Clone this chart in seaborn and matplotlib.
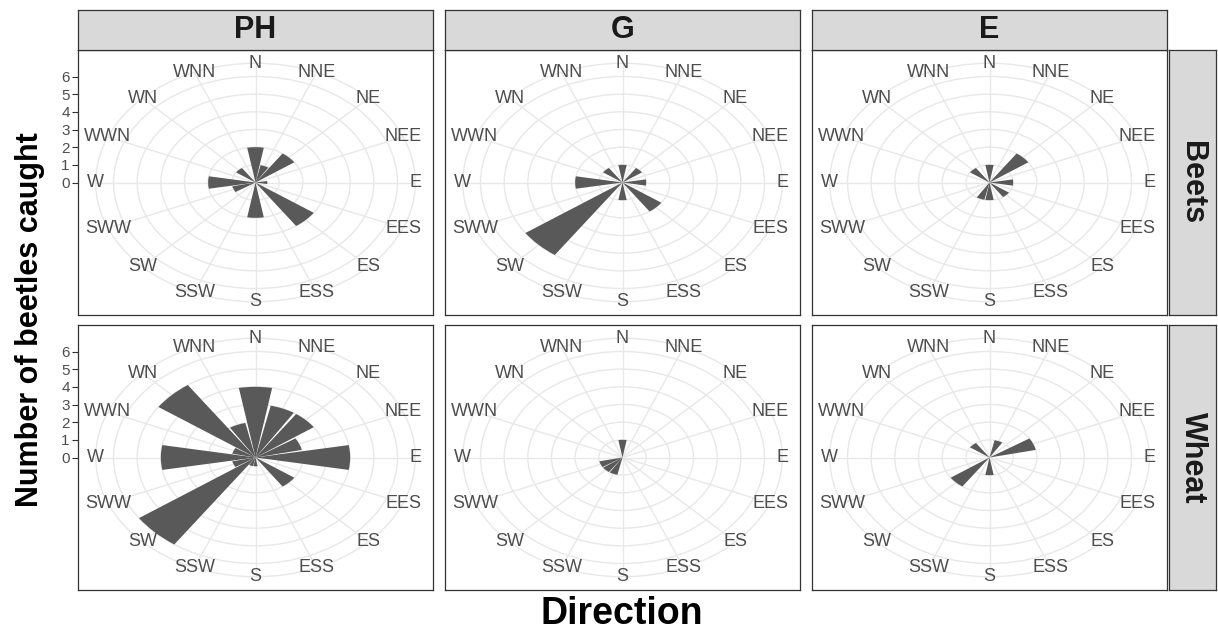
import numpy as np
import pandas as pd
import matplotlib
matplotlib.use("Agg")
import matplotlib.pyplot as plt
import seaborn as sns

# Compass sectors, clockwise from north
directions = ["N", "NNE", "NE", "NEE", "E", "EES", "ES", "ESS",
              "S", "SSW", "SW", "SWW", "W", "WWN", "WN", "WNN"]
sites = ["PH", "G", "E"]
crops = ["Beets", "Wheat"]

# Beetles caught in each sector
ph_beets = [2, 1, 2, 0, 0.5, 0, 3, 0, 2, 0, 0, 1, 2, 0, 1, 0]
g_beets = [1, 0, 1, 0, 1, 0, 2, 0, 1, 0, 5, 0, 2, 0, 1, 0]
e_beets = [1, 0, 2, 0, 1, 0, 1, 0, 1, 1, 0, 0, 0, 0, 1, 0]
ph_wheat = [4, 3, 3, 2, 4, 0, 2, 0, 0.5, 0.5, 6, 1, 4, 1, 5, 2]
g_wheat = [1, 0, 0, 0, 0, 0, 0, 0, 0, 1, 1, 1, 0, 0, 0, 0]
e_wheat = [0, 1, 0, 2, 0, 0, 0, 0, 1, 0, 2, 0, 0, 0, 1, 0]

r_breaks = [0, 1, 2, 3, 4, 5, 6]

counts = {
    ("Beets", "PH"): ph_beets, ("Beets", "G"): g_beets, ("Beets", "E"): e_beets,
    ("Wheat", "PH"): ph_wheat, ("Wheat", "G"): g_wheat, ("Wheat", "E"): e_wheat,
}

theta = np.arange(len(directions)) * 2 * np.pi / len(directions)
rows = []
for (crop, site), vals in counts.items():
    for d, t, v in zip(directions, theta, vals):
        rows.append({"crop": crop, "site": site, "direction": d, "theta": t, "count": v})
df = pd.DataFrame(rows)

sns.set_theme(style="white")
plt.rcParams["font.family"] = ["Liberation Sans", "DejaVu Sans"]

W, H = 1218, 631
fig = plt.figure(figsize=(W / 100, H / 100), dpi=100)
fig.patch.set_facecolor("white")


def fbox(x, y, w, h):
    return [x / W, 1 - (y + h) / H, w / W, h / H]


bar_color = "#595959"
grid_color = "#E8E8E8"
border = "#333333"
text_gray = "#4D4D4D"
strip_fill = "#D9D9D9"

col_x = [78, 445, 812]
row_y = [50, 325]
pw, ph = 355, 265
r_top = max(r_breaks)
r_outer = r_top * 0.45 / 0.4          # label ring just outside the data range
half_span = r_top * 0.5 / 0.4         # panel half height in count units

for i, crop in enumerate(crops):
    for j, site in enumerate(sites):
        x0, y0 = col_x[j], row_y[i]

        # rectangular panel carrying the border and the radial-count axis
        pax = fig.add_axes(fbox(x0, y0, pw, ph))
        pax.set_facecolor("white")
        pax.set_xlim(-1, 1)
        pax.set_ylim(-half_span, half_span)
        pax.set_xticks([])
        if j == 0:
            pax.set_yticks(r_breaks)
            pax.set_yticklabels([str(b) for b in r_breaks], fontsize=11,
                                color=text_gray)
            pax.tick_params(axis="y", left=True, length=4, width=0.8,
                            color=border, pad=2)
        else:
            pax.set_yticks([])
        for s in pax.spines.values():
            s.set_color(border)
            s.set_linewidth(0.9)

        # polar panel, stretched to fill the rectangle
        ax = fig.add_axes(fbox(x0 + 0.05 * pw, y0 + 0.05 * ph, 0.9 * pw, 0.9 * ph),
                          projection="polar")
        ax.set_aspect("auto")
        ax.set_theta_zero_location("N")
        ax.set_theta_direction(-1)
        ax.patch.set_visible(False)
        ax.set_axisbelow(True)

        sub = df[(df["crop"] == crop) & (df["site"] == site)]
        sns.barplot(data=sub, x="theta", y="count", native_scale=True,
                    width=0.9, color=bar_color, saturation=1, errorbar=None,
                    linewidth=0, ax=ax)
        ax.set_xlabel("")
        ax.set_ylabel("")
        ax.set_xlim(0, 2 * np.pi)
        ax.set_ylim(0, r_outer)
        ax.set_yticks(r_breaks[1:])
        ax.set_yticklabels([])
        ax.set_xticks(theta)
        ax.set_xticklabels([])
        ax.tick_params(length=0)
        ax.grid(True, color=grid_color, linewidth=1.0)
        ax.spines["polar"].set_color(grid_color)
        ax.spines["polar"].set_linewidth(1.0)

        for d, t in zip(directions, theta):
            ax.text(t, r_outer, d, ha="center", va="center", fontsize=13,
                    color=text_gray, clip_on=False)

# column strips
for j, site in enumerate(sites):
    sax = fig.add_axes(fbox(col_x[j], 10, pw, 40))
    sax.set_facecolor(strip_fill)
    sax.set_xticks([])
    sax.set_yticks([])
    for s in sax.spines.values():
        s.set_color(border)
        s.set_linewidth(0.9)
    sax.text(0.5, 0.5, site, ha="center", va="center", fontsize=22,
             fontweight="bold", color="#1A1A1A", transform=sax.transAxes)

# row strips
for i, crop in enumerate(crops):
    sax = fig.add_axes(fbox(1169, row_y[i], 47, ph))
    sax.set_facecolor(strip_fill)
    sax.set_xticks([])
    sax.set_yticks([])
    for s in sax.spines.values():
        s.set_color(border)
        s.set_linewidth(0.9)
    sax.text(0.5, 0.5, crop, ha="center", va="center", fontsize=22,
             fontweight="bold", color="#1A1A1A", rotation=-90,
             transform=sax.transAxes)

fig.text(30 / W, 1 - 320 / H, "Number of beetles caught", rotation=90,
         ha="center", va="center", fontsize=22, fontweight="bold", color="black")
fig.text(622 / W, 1 - 614 / H, "Direction", ha="center", va="center",
         fontsize=27, fontweight="bold", color="black")

fig.savefig("out.png", dpi=100, facecolor="white")
